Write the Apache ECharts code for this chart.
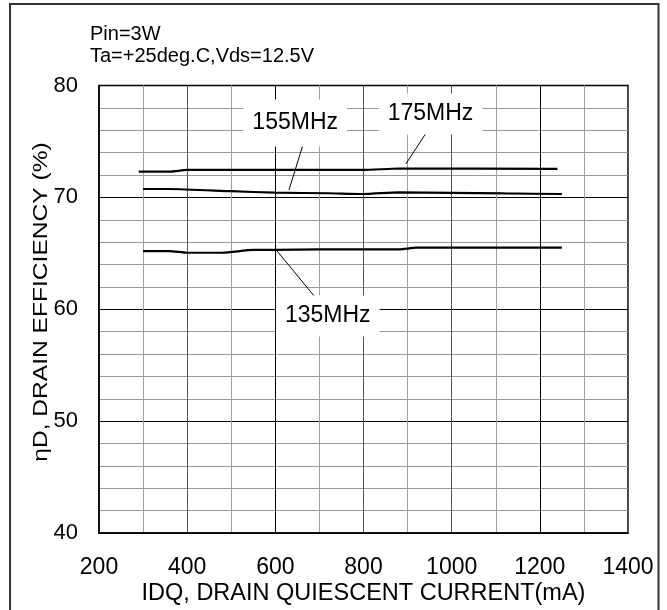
<!DOCTYPE html>
<html>
<head>
<meta charset="utf-8">
<script src="https://cdn.jsdelivr.net/npm/echarts@6/dist/echarts.min.js"></script>
<style>
  html, body { margin: 0; padding: 0; background: #fff; }
  #chart { width: 667px; height: 610px; }
</style>
</head>
<body>
<div id="chart"></div>
<script>
// Axis ticks
const xTicks = [200, 400, 600, 800, 1000, 1200, 1400];
const yTicks = [40, 50, 60, 70, 80];

// Curve names
const freqNames = ['135MHz', '155MHz', '175MHz'];

// Drain quiescent current (mA) and drain efficiency (%) per frequency
const idq135 = [300, 360, 400, 480, 550, 600, 700, 880, 920, 1250];
const eff135 = [65.2, 65.2, 65.05, 65.05, 65.3, 65.3, 65.35, 65.35, 65.5, 65.5];

const idq155 = [300, 360, 500, 600, 720, 800, 880, 1120, 1250];
const eff155 = [70.75, 70.75, 70.55, 70.42, 70.37, 70.3, 70.45, 70.35, 70.3];

const idq175 = [290, 360, 400, 600, 800, 880, 1240];
const eff175 = [72.3, 72.3, 72.45, 72.45, 72.45, 72.58, 72.55];

// Callout anchors in data units [IDQ, efficiency]
const tagAt    = [[719, 59.4], [645, 76.65], [952, 77.45]];
const leadFrom = [[692, 61.0], [665, 75.0], [941, 75.7]];
const leadTo   = [[603, 65.25], [631, 70.66], [896, 72.98]];

const FONT = '"Liberation Sans", Arial, Helvetica, sans-serif';

function pairs(xs, ys) {
  return xs.map((x, i) => [x, ys[i]]);
}

const curveData = [pairs(idq135, eff135), pairs(idq155, eff155), pairs(idq175, eff175)];
const tagPadding = [[9, 9], [12, 9], [9, 9]];

const series = curveData.map((data, i) => ({
  name: freqNames[i],
  type: 'line',
  data: data,
  showSymbol: false,
  smooth: 0.2,
  lineStyle: { color: '#000', width: 2.2 },
  z: 3,
  markLine: {
    silent: true,
    symbol: 'none',
    label: { show: false },
    lineStyle: { color: '#000', width: 1, type: 'solid' },
    data: [[{ coord: leadFrom[i] }, { coord: leadTo[i] }]]
  },
  markPoint: {
    silent: true,
    symbol: 'rect',
    symbolSize: 0,
    label: {
      show: true,
      position: 'inside',
      formatter: '{b}',
      color: '#000',
      fontFamily: FONT,
      fontSize: 23,
      backgroundColor: '#fff',
      padding: tagPadding[i]
    },
    data: [{ name: freqNames[i], coord: tagAt[i] }]
  }
}));

const chart = echarts.init(document.getElementById('chart'), null, { renderer: 'canvas' });

chart.setOption({
  animation: false,
  backgroundColor: '#fff',
  grid: {
    left: 99, right: 39, top: 85.5, bottom: 77,
    show: true, borderColor: '#000', borderWidth: 1.5,
    containLabel: false,
    outerBoundsMode: 'none'
  },
  xAxis: {
    type: 'value',
    min: xTicks[0],
    max: xTicks[xTicks.length - 1],
    interval: xTicks[1] - xTicks[0],
    name: 'IDQ, DRAIN QUIESCENT CURRENT(mA)',
    nameLocation: 'middle',
    nameGap: 49,
    nameMoveOverlap: false,
    nameTextStyle: { fontFamily: FONT, fontSize: 23.5, color: '#000' },
    axisLine: { show: true, lineStyle: { color: '#000', width: 1.5 } },
    axisTick: { show: false },
    axisLabel: {
      fontFamily: FONT, fontSize: 23, color: '#000', margin: 23,
      formatter: v => String(v)
    },
    splitLine: { show: true, lineStyle: { color: ['#555', '#555', '#000'], width: 1 } },
    minorTick: { show: false, splitNumber: 2 },
    minorSplitLine: { show: true, lineStyle: { color: '#a0a0a0', width: 1 } }
  },
  yAxis: {
    type: 'value',
    min: yTicks[0],
    max: yTicks[yTicks.length - 1],
    interval: yTicks[1] - yTicks[0],
    axisLine: { show: true, lineStyle: { color: '#000', width: 1.5 } },
    axisTick: { show: false },
    axisLabel: {
      fontFamily: FONT, fontSize: 22, color: '#000', margin: 21,
      formatter: v => String(v)
    },
    splitLine: { show: true, lineStyle: { color: '#000', width: 1 } },
    minorTick: { show: false, splitNumber: 5 },
    minorSplitLine: { show: true, lineStyle: { color: '#999', width: 1 } }
  },
  graphic: [
    {
      type: 'rect',
      silent: true,
      shape: { x: 10, y: 4, width: 648.5, height: 660 },
      style: { fill: 'none', stroke: '#333', lineWidth: 2 }
    },
    {
      type: 'text',
      left: 90, top: 24,
      style: { text: 'Pin=3W', fontFamily: FONT, fontSize: 20, fill: '#000' }
    },
    {
      type: 'text',
      left: 90, top: 46,
      style: { text: 'Ta=+25deg.C,Vds=12.5V', fontFamily: FONT, fontSize: 20, fill: '#000' }
    },
    {
      type: 'text',
      x: 41, y: 302,
      rotation: Math.PI / 2,
      scaleX: 1.17,
      style: {
        text: 'ηD, DRAIN EFFICIENCY (%)',
        fontFamily: FONT, fontSize: 21, fill: '#000',
        align: 'center', verticalAlign: 'middle'
      }
    }
  ],
  series: series
});
</script>
</body>
</html>
